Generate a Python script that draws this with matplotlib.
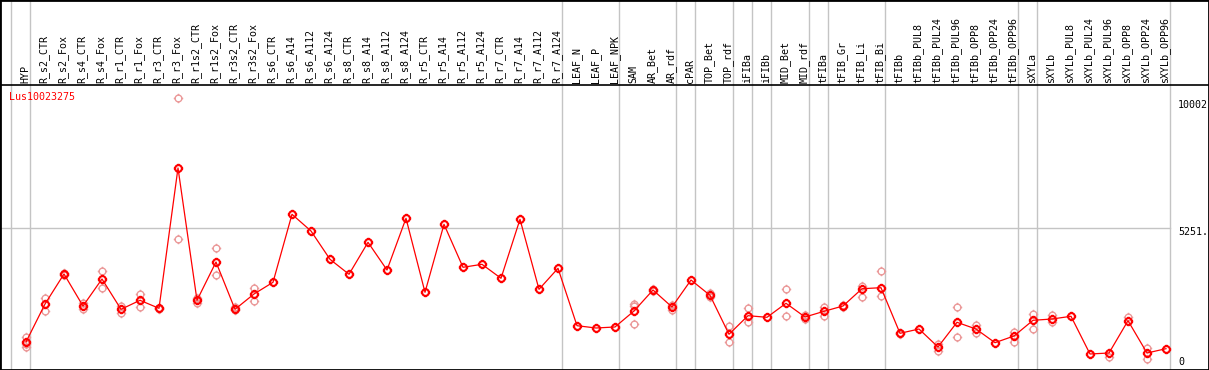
import matplotlib
matplotlib.use("Agg")
import matplotlib.pyplot as plt
from matplotlib.path import Path
from matplotlib.transforms import blended_transform_factory

# sample names, left to right
categories = [
    "HYP", "R_s2_CTR", "R_s2_Fox", "R_s4_CTR", "R_s4_Fox", "R_r1_CTR", "R_r1_Fox",
    "R_r3_CTR", "R_r3_Fox", "R_r1s2_CTR", "R_r1s2_Fox", "R_r3s2_CTR", "R_r3s2_Fox",
    "R_s6_CTR", "R_s6_A14", "R_s6_A112", "R_s6_A124", "R_s8_CTR", "R_s8_A14",
    "R_s8_A112", "R_s8_A124", "R_r5_CTR", "R_r5_A14", "R_r5_A112", "R_r5_A124",
    "R_r7_CTR", "R_r7_A14", "R_r7_A112", "R_r7_A124", "LEAF_N", "LEAF_P", "LEAF_NPK",
    "SAM", "AR_Bet", "AR_rdf", "cPAR", "TOP_Bet", "TOP_rdf", "iFIBa", "iFIBb",
    "MID_Bet", "MID_rdf", "tFIBa", "tFIB_Gr", "tFIB_Li", "tFIB_Bi", "tFIBb",
    "tFIBb_PUL8", "tFIBb_PUL24", "tFIBb_PUL96", "tFIBb_OPP8", "tFIBb_OPP24",
    "tFIBb_OPP96", "sXYLa", "sXYLb", "sXYLb_PUL8", "sXYLb_PUL24", "sXYLb_PUL96",
    "sXYLb_OPP8", "sXYLb_OPP24", "sXYLb_OPP96",
]

# mean expression per sample
means = [
    1084, 2473, 3570, 2400, 3387, 2279, 2608, 2316, 7444, 2608, 4008, 2279, 2839,
    3266, 5752, 5141, 4107, 3559, 4728, 3716, 5606, 2901, 5386, 3815, 3924,
    3413, 5569, 3010, 3778, 1680, 1596, 1633, 2217, 2985, 2364, 3350, 2791, 1366,
    2046, 1987, 2499, 1998, 2206, 2400, 3032, 3069, 1402, 1559, 902, 1804, 1559,
    1059, 1304, 1877, 1925, 2024, 646, 682, 1863, 682, 840,
]

# single replicates (light circles)
replicates = [
    [1278, 1011, 902], [2703, 2217], [3600, 3540], [2521, 2290], [3679, 3047],
    [2400, 2144], [2839, 2353], [2340, 2290], [10002, 4838], [2682, 2521],
    [4509, 3522], [2353, 2243], [3047, 2594],
    [], [], [], [], [], [], [], [], [], [], [], [], [], [], [], [],
    [], [], [],
    [2462, 2400, 1731], [3020, 2960], [2437, 2254], [], [2864, 2740], [1680, 1073],
    [2316, 1826], [], [3010, 2024], [2071, 1925], [2364, 2024], [2437, 2364],
    [3142, 2740], [3668, 2755], [1430, 1380], [], [1011, 766], [2364, 1256],
    [1705, 1402], [], [1461, 1095], [2108, 1548], [2060, 1826], [], [], [547],
    [1987], [854, 474], [],
]

# first sample of each tissue group
group_starts = ["HYP", "R_s2_CTR", "LEAF_N", "SAM", "cPAR", "TOP_Bet", "iFIBa",
                "iFIBb", "MID_Bet", "tFIBa", "tFIB_Gr", "tFIBb", "sXYLa", "sXYLb"]

gene = "Lus10023275"
axis_labels = ["10002", "5251.", "0"]
mid_value = 5251

W, H = 1209, 370
fig = plt.figure(figsize=(W / 100, H / 100), dpi=100)
ax = fig.add_axes([0, 0, 1, 1])
ax.set_xlim(-26 / 19, (W - 26) / 19)
ax.set_ylim(61, 13584)
ax.set_xticks([])
ax.set_yticks([])
for s in ax.spines.values():
    s.set_linewidth(2)
    s.set_color("black")

# circle marker with four small ticks
circle = Path.unit_circle()
ticks = Path(
    [(0, 1), (0, 1.4), (0, -1), (0, -1.4), (1, 0), (1.4, 0), (-1, 0), (-1.4, 0)],
    [Path.MOVETO, Path.LINETO] * 4,
)
marker = Path.make_compound_path(circle, ticks)

grey = "#c4c4c4"
for name in group_starts:
    ax.axvline(categories.index(name) - 0.78, color=grey, lw=1, zorder=0)
ax.axvline(len(categories) - 0.78, color=grey, lw=1, zorder=0)
ax.axhline(mid_value, xmin=0, xmax=1170 / W, color=grey, lw=1, zorder=0)

# header separator
fig.add_artist(plt.Line2D([0, 1], [1 - 85 / H] * 2, color="black", lw=1.2,
                          transform=fig.transFigure))

x = list(range(len(categories)))
for i, reps in enumerate(replicates):
    if reps:
        ax.plot([i] * len(reps), reps, ls="none", marker=marker, ms=6.8,
                mfc="none", mec="#eb9a9a", mew=1.0, zorder=2)

ax.plot(x, means, color="red", lw=0.9, marker=marker, ms=6.8, mfc="none",
        mec="red", mew=1.5, zorder=3)

mono = "DejaVu Sans Mono"
trans = blended_transform_factory(ax.transData, fig.transFigure)
for i, name in enumerate(categories):
    ax.text(i - 0.05, 1 - 83 / H, name, rotation=90, ha="center", va="bottom",
            fontsize=7.2, family=mono, transform=trans)

fig.text(9 / W, 1 - 97 / H, gene, color="red", fontsize=7.2, family=mono,
         va="center", ha="left")

for label, ypx in zip(axis_labels, [105, 232, 362]):
    fig.text(1178 / W, 1 - ypx / H, label, fontsize=7.2, family=mono,
             va="center", ha="left")

fig.savefig("out.png", dpi=100)
